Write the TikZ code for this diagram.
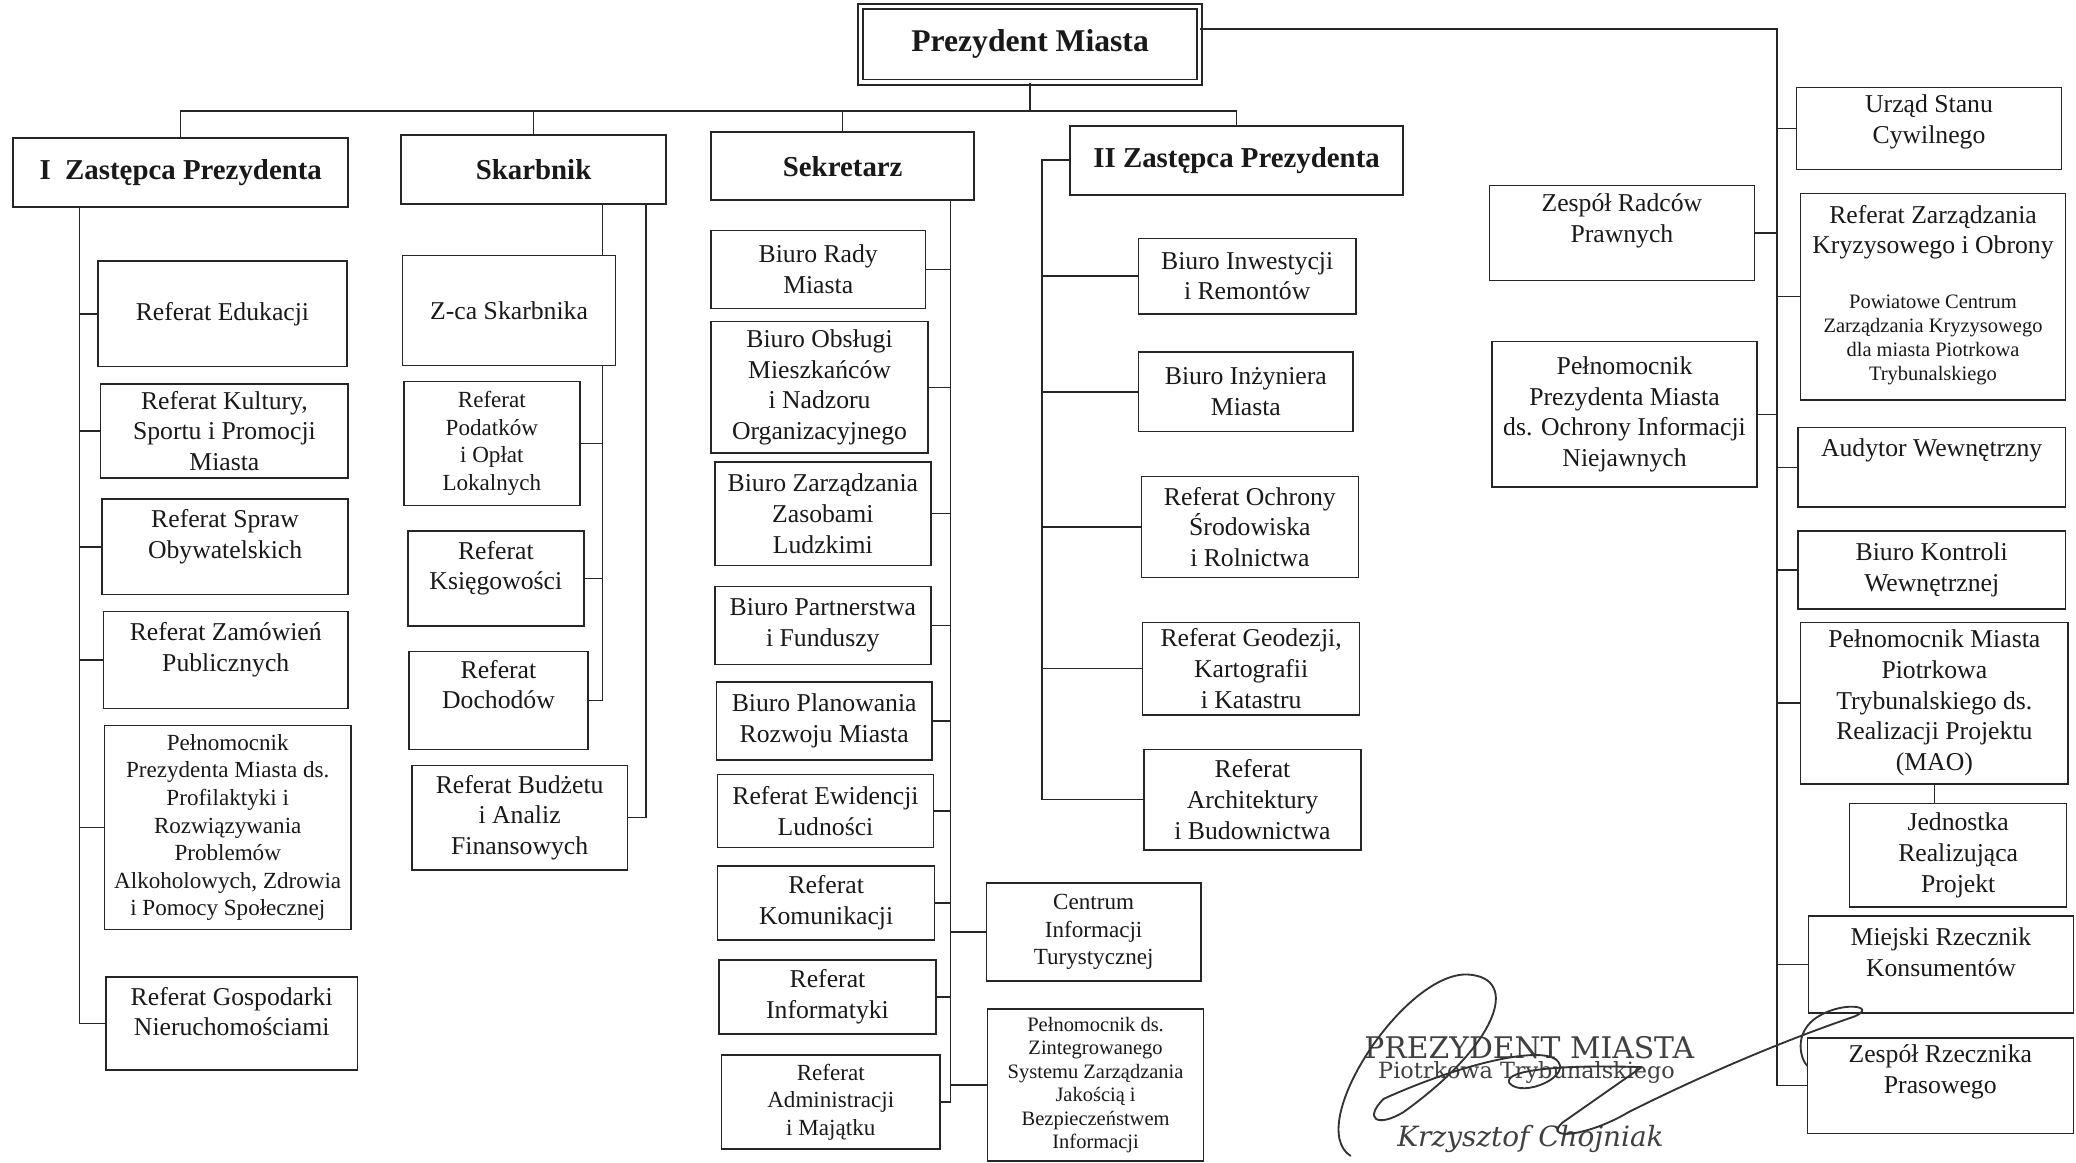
\documentclass[tikz,border=0pt]{standalone}
\usepackage{fontspec}
\setmainfont{Liberation Serif}
\newfontfamily\stampfont{DejaVu Serif}

\tikzset{
  office/.style={draw=black!85, line width=0.8pt, inner sep=0pt, align=center, text=black!90,
    font=\fontsize{13.8}{16.5}\selectfont},
  smalloffice/.style={office, font=\fontsize{12.4}{14.8}\selectfont},
  tinyoffice/.style={office, font=\fontsize{11}{12.6}\selectfont},
  headoffice/.style={office, line width=1.1pt, font=\fontsize{15.5}{18}\selectfont\bfseries},
  area/.style args={#1/#2/#3/#4}{at={({(#1+#3)/2},{(#2+#4)/2})},
    minimum width={(#3-#1)*0.025cm}, minimum height={(#4-#2)*0.025cm}},
  lift/.style={text depth=#1},
  link/.style={draw=black!85, line width=0.8pt},
  stamp/.style={inner sep=0pt, text=black!75},
  sig/.style={draw=black!80, line width=1pt, line cap=round, line join=round}
}
\newcommand{\tinyline}{\fontsize{11}{12.9}\selectfont}

\begin{document}
\begin{tikzpicture}[x=0.025cm, y=-0.025cm]
  \fill[white] (0,0) rectangle (1568,878);
  \useasboundingbox (0,0) rectangle (1568,878);

  \node[headoffice, double, double distance=1.8pt, line width=1pt, font=\fontsize{17}{20}\selectfont\bfseries,
    area=650/5/906/62] (pm) {Prezydent Miasta};

  \node[headoffice, area=10/104/263/156] (izast) {I\enspace Zastępca Prezydenta};
  \node[headoffice, area=303/102/503/154] (skarb) {Skarbnik};
  \node[headoffice, area=537/100/736/151] (sekr) {Sekretarz};
  \node[headoffice, area=808/95/1060/147] (iizast) {II Zastępca Prezydenta};

  % I Zastepca
  \node[office, area=74/197/262/277] (edu) {Referat Edukacji};
  \node[office, area=76/290/263/361] (kult) {Referat Kultury,\\Sportu i Promocji\\Miasta};
  \node[office, lift=14pt, area=77/377/263/449] (obyw) {Referat Spraw\\Obywatelskich};
  \node[office, lift=14pt, area=78/462/263/535] (zamow) {Referat Zamówień\\Publicznych};
  \node[smalloffice, area=79/548/265/702] (profil) {Pełnomocnik\\Prezydenta Miasta ds.\\Profilaktyki i\\Rozwiązywania\\Problemów\\Alkoholowych, Zdrowia\\i Pomocy Społecznej};
  \node[office, lift=13pt, area=80/738/270/808] (nieruch) {Referat Gospodarki\\Nieruchomościami};

  % Skarbnik
  \node[office, area=304/193/465/276] (zca) {Z-ca Skarbnika};
  \node[smalloffice, area=305/288/438/382] (podat) {Referat\\Podatków\\i Opłat\\Lokalnych};
  \node[office, lift=14pt, area=308/401/441/473] (ksieg) {Referat\\Księgowości};
  \node[office, lift=17pt, area=309/492/444/566] (doch) {Referat\\Dochodów};
  \node[office, area=311/578/474/657] (budz) {Referat Budżetu\\i Analiz\\Finansowych};

  % Sekretarz
  \node[office, area=537/174/699/233] (rada) {Biuro Rady\\Miasta};
  \node[office, area=537/243/701/342] (obsl) {Biuro Obsługi\\Mieszkańców\\i Nadzoru\\Organizacyjnego};
  \node[office, area=540/349/703/427] (zasob) {Biuro Zarządzania\\Zasobami\\Ludzkimi};
  \node[office, area=540/443/703/502] (partn) {Biuro Partnerstwa\\i Funduszy};
  \node[office, area=541/515/704/574] (plan) {Biuro Planowania\\Rozwoju Miasta};
  \node[office, area=542/585/705/640] (ewid) {Referat Ewidencji\\Ludności};
  \node[office, area=542/654/706/710] (komun) {Referat\\Komunikacji};
  \node[office, area=543/725/707/781] (inform) {Referat\\Informatyki};
  \node[smalloffice, area=545/797/710/868] (admin) {Referat\\Administracji\\i Majątku};
  \node[smalloffice, area=745/667/907/741] (turyst) {Centrum\\Informacji\\Turystycznej};
  \node[tinyoffice, area=746/762/909/877] (jakosc) {Pełnomocnik ds.\\Zintegrowanego\\Systemu Zarządzania\\Jakością i\\Bezpieczeństwem\\Informacji};

  % II Zastepca
  \node[office, area=860/180/1024/237] (inwest) {Biuro Inwestycji\\i Remontów};
  \node[office, area=860/266/1022/326] (inzyn) {Biuro Inżyniera\\Miasta};
  \node[office, area=862/360/1026/436] (srodow) {Referat Ochrony\\Środowiska\\i Rolnictwa};
  \node[office, area=863/470/1027/540] (geodez) {Referat Geodezji,\\Kartografii\\i Katastru};
  \node[office, area=864/566/1028/642] (archit) {Referat\\Architektury\\i Budownictwa};

  % Prezydent
  \node[office, lift=16pt, area=1125/140/1325/212] (radcy) {Zespół Radców\\Prawnych};
  \node[office, area=1127/258/1327/368] (niejaw) {Pełnomocnik\\Prezydenta Miasta\\ds. Ochrony Informacji\\Niejawnych};
  \node[office, lift=10pt, area=1357/66/1557/128] (usc) {Urząd Stanu\\Cywilnego};
  \node[office, area=1360/146/1560/302] (kryzys) {Referat Zarządzania\\Kryzysowego i Obrony\\[13pt]
    \tinyline\begin{tabular}[t]{@{}c@{}}Powiatowe Centrum\\Zarządzania Kryzysowego\\dla miasta Piotrkowa\\Trybunalskiego\end{tabular}};
  \node[office, lift=21pt, area=1358/323/1560/383] (audyt) {Audytor Wewnętrzny};
  \node[office, area=1358/401/1560/460] (kontr) {Biuro Kontroli\\Wewnętrznej};
  \node[office, area=1360/470/1562/592] (mao) {Pełnomocnik Miasta\\Piotrkowa\\Trybunalskiego ds.\\Realizacji Projektu\\(MAO)};
  \node[office, area=1397/607/1561/685] (jedn) {Jednostka\\Realizująca\\Projekt};
  \node[office, lift=13pt, area=1366/692/1566/765] (rzecz) {Miejski Rzecznik\\Konsumentów};
  \node[office, lift=18pt, area=1365/784/1566/856] (prasa) {Zespół Rzecznika\\Prasowego};

  % connectors
  \coordinate (bus) at (776,84);
  \draw[link] (pm.south) -- (pm.south |- bus);
  \draw[link] (izast.north) |- (iizast.north |- bus) -- (iizast.north);
  \foreach \n in {skarb,sekr}
    \draw[link] (\n.north) -- (\n.north |- bus);

  \coordinate (itrunk) at (60,0);
  \draw[link] (izast.south -| itrunk) |- (nieruch.west);
  \foreach \n in {edu,kult,obyw,zamow,profil}
    \draw[link] (\n.west) -- (\n.west -| itrunk);

  \coordinate (strunk) at (455,0);
  \coordinate (btrunk) at (488,0);
  \draw[link] (skarb.south -| strunk) -- (zca.north -| strunk);
  \draw[link] (zca.south -| strunk) |- (doch.east);
  \foreach \n in {podat,ksieg}
    \draw[link] (\n.east) -- (\n.east -| strunk);
  \draw[link] (skarb.south -| btrunk) |- (budz.east);

  \coordinate (ktrunk) at (718,0);
  \draw[link] (sekr.south -| ktrunk) |- (admin.east);
  \foreach \n in {rada,obsl,zasob,partn,plan,ewid,komun,inform}
    \draw[link] (\n.east) -- (\n.east -| ktrunk);
  \foreach \n in {turyst,jakosc}
    \draw[link] (\n.west) -- (\n.west -| ktrunk);

  \coordinate (ztrunk) at (787,0);
  \draw[link] (iizast.west) -| (archit.west -| ztrunk) -- (archit.west);
  \foreach \n in {inwest,inzyn,srodow,geodez}
    \draw[link] (\n.west) -- (\n.west -| ztrunk);

  \coordinate (rtrunk) at (1342,22);
  \draw[link] (pm.east |- rtrunk) -- (rtrunk) |- (prasa.west);
  \foreach \n in {usc,kryzys,audyt,kontr,mao,rzecz}
    \draw[link] (\n.west) -- (\n.west -| rtrunk);
  \foreach \n in {radcy,niejaw}
    \draw[link] (\n.east) -- (\n.east -| rtrunk);
  \draw[link] (mao.south) -- (mao.south |- jedn.north);

  % stamp and signature
  \node[stamp, font=\stampfont\fontsize{16}{18}\selectfont] (stampa) at (1155,791) {PREZYDENT MIASTA};
  \node[stamp, font=\stampfont\fontsize{12}{14}\selectfont] (stampb) at (1153,810) {Piotrkowa Trybunalskiego};
  \node[stamp, font=\stampfont\itshape\fontsize{15}{17}\selectfont] (stampc) at (1156,860) {Krzysztof Chojniak};
  \draw[sig] (1020,873) .. controls (985,850) and (1060,735) .. (1108,736)
    .. controls (1150,738) and (1130,790) .. (1060,840)
    .. controls (1040,852) and (1030,845) .. (1045,830)
    .. controls (1100,805) and (1160,790) .. (1175,800)
    .. controls (1190,812) and (1150,830) .. (1140,818)
    .. controls (1135,808) and (1180,804) .. (1240,806)
    -- (1180,848) .. controls (1165,862) and (1200,858) .. (1230,840)
    .. controls (1290,810) and (1350,785) .. (1400,768)
    .. controls (1420,760) and (1390,755) .. (1370,770)
    .. controls (1355,782) and (1360,800) .. (1365,805);
\end{tikzpicture}
\end{document}
